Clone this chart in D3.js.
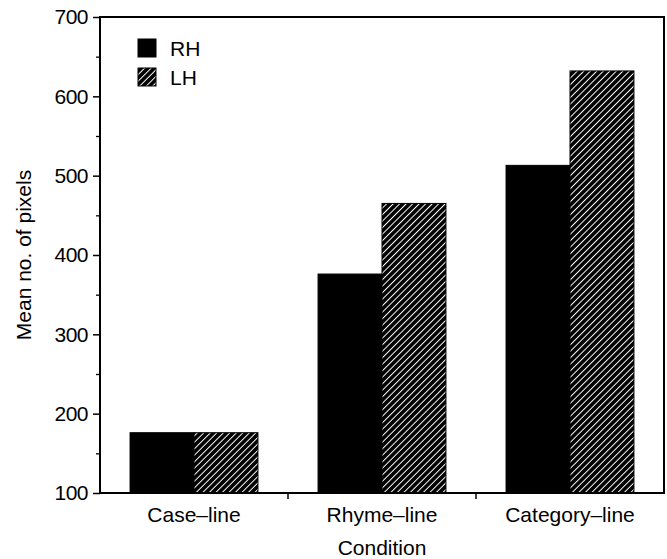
<!DOCTYPE html>
<html><head><meta charset="utf-8">
<script src="https://cdn.jsdelivr.net/npm/d3@7"></script>
<style>body{margin:0;background:#fff}svg{display:block}text{font-family:"Liberation Sans",Arial,sans-serif;fill:#000}</style>
</head><body><div id="c"></div>
<script>
const categories = ["Case\u2013line","Rhyme\u2013line","Category\u2013line"];
const seriesNames = ["RH","LH"];
const rhValues = [176, 376, 513];
const lhValues = [176, 465, 632];
const yTickValues = [100,200,300,400,500,600,700];
const yMinorTicks = [150,250,350,450,550,650];

const W=667,H=559;
const m={l:100,r:3,t:17,b:66};
const svg=d3.select("#c").append("svg").attr("width",W).attr("height",H);
const defs=svg.append("defs");
const pat=defs.append("pattern").attr("id","hatch").attr("patternUnits","userSpaceOnUse")
  .attr("width",4.6).attr("height",4.6).attr("patternTransform","rotate(45)");
pat.append("rect").attr("width",4.6).attr("height",4.6).attr("fill","#000");
pat.append("line").attr("x1",2.3).attr("x2",2.3).attr("y1",0).attr("y2",4.6).attr("stroke","#fff").attr("stroke-width",1.0);

const x0=d3.scaleBand().domain(categories).range([m.l,W-m.r]).paddingInner(0).paddingOuter(0);
const x1=d3.scaleBand().domain(seriesNames).range([0,x0.bandwidth()]).paddingInner(0).paddingOuter(0.47);
const y=d3.scaleLinear().domain([100,700]).range([H-m.b,m.t]);

const data=categories.map((c,i)=>({cat:c,vals:[{s:"RH",v:rhValues[i]},{s:"LH",v:lhValues[i]}]}));
const fills={RH:"#000",LH:"url(#hatch)"};
const g=svg.append("g");
g.selectAll("g.cat").data(data).join("g").attr("transform",d=>`translate(${x0(d.cat)},0)`)
 .selectAll("rect").data(d=>d.vals).join("rect")
 .attr("x",d=>x1(d.s)).attr("width",x1.bandwidth())
 .attr("y",d=>y(d.v)).attr("height",d=>y(100)-y(d.v))
 .attr("fill",d=>fills[d.s]).attr("stroke","#000").attr("stroke-width",1);

// frame
svg.append("rect").attr("x",m.l).attr("y",m.t).attr("width",W-m.r-m.l).attr("height",H-m.b-m.t)
 .attr("fill","none").attr("stroke","#000").attr("stroke-width",2);

// y axis
const ya=svg.append("g").attr("transform",`translate(${m.l},0)`)
 .call(d3.axisLeft(y).tickValues(yTickValues).tickSize(7).tickPadding(5).tickFormat(d3.format("d")));
ya.select(".domain").remove();
ya.selectAll("line").attr("stroke-width",1.5);
ya.selectAll("text").attr("font-size",21).attr("letter-spacing",-0.5).attr("fill","#000");
const ym=svg.append("g").attr("transform",`translate(${m.l},0)`)
 .call(d3.axisLeft(y).tickValues(yMinorTicks).tickSize(4).tickFormat(""));
ym.select(".domain").remove();
ym.selectAll("line").attr("stroke-width",1.3);

// x axis
const xa=svg.append("g").attr("transform",`translate(0,${H-m.b})`)
 .call(d3.axisBottom(x0).tickSize(0).tickPadding(14));
xa.select(".domain").remove();
xa.selectAll("text").attr("font-size",21).attr("fill","#000");
const boundaries=categories.slice(1).map(c=>x0(c));
svg.append("g").selectAll("line").data(boundaries).join("line")
 .attr("x1",d=>d).attr("x2",d=>d).attr("y1",H-m.b).attr("y2",H-m.b+6)
 .attr("stroke","#000").attr("stroke-width",1.5);

// axis titles
svg.append("text").attr("x",(m.l+W-m.r)/2).attr("y",555).attr("text-anchor","middle")
 .attr("font-size",21).text("Condition");
svg.append("text").attr("transform",`translate(31,${(m.t+H-m.b)/2}) rotate(-90)`).attr("text-anchor","middle")
 .attr("font-size",21).text("Mean no. of pixels");

// legend
const lg=svg.append("g").attr("transform","translate(138,39)");
seriesNames.forEach((s,i)=>{
  lg.append("rect").attr("x",0).attr("y",i*29).attr("width",18).attr("height",18)
    .attr("fill",fills[s]).attr("stroke","#000").attr("stroke-width",1);
  lg.append("text").attr("x",32).attr("y",i*29+17).attr("font-size",21).text(s);
});
</script></body></html>
